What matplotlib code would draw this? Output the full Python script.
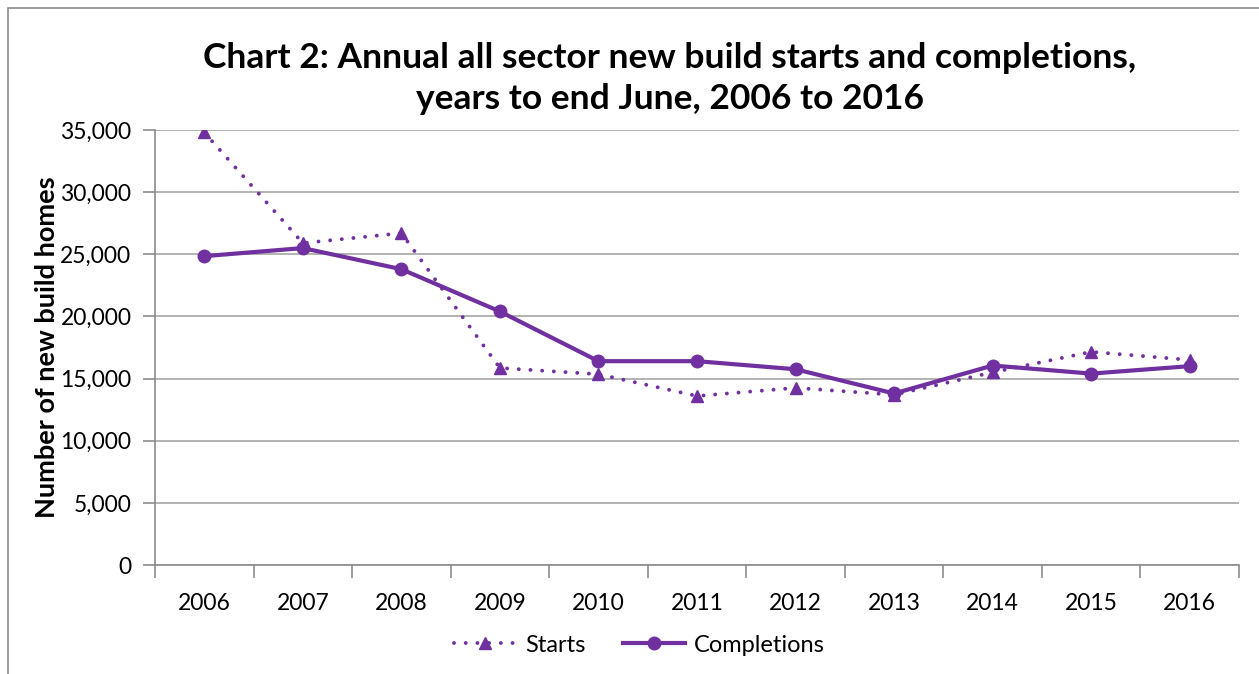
import matplotlib.pyplot as plt
from matplotlib.patches import Rectangle
from matplotlib.ticker import FuncFormatter, FixedLocator

# Data (years to end June)
years = ["2006", "2007", "2008", "2009", "2010", "2011",
         "2012", "2013", "2014", "2015", "2016"]
starts = [34800, 25900, 26700, 15850, 15350, 13600,
          14250, 13700, 15500, 17150, 16500]
completions = [24850, 25500, 23800, 20400, 16400, 16400,
               15750, 13800, 16050, 15400, 16000]

purple = "#7030A0"
plt.rcParams["font.family"] = ["Lato", "DejaVu Sans"]

fig = plt.figure(figsize=(12.59, 6.74), dpi=100)
ax = fig.add_axes([155 / 1259, 1 - 565 / 674, (1239 - 155) / 1259, (565 - 130) / 674])

# outer chart border
fig.patches.append(Rectangle((8 / 1259, -0.01), 1.2, 1 - 8 / 674 + 0.01,
                             transform=fig.transFigure, fill=False,
                             edgecolor="#8c8c8c", linewidth=1.2))

x = list(range(len(years)))
ax.plot(x, starts, linestyle=(0, (0.01, 3.0)), linewidth=2.8, color=purple,
        marker="^", markersize=9, label="Starts", dash_capstyle="round")
ax.plot(x, completions, linestyle="-", linewidth=3, color=purple,
        marker="o", markersize=9, label="Completions")

ax.set_xlim(-0.5, len(years) - 0.5)
ax.set_ylim(0, 35000)
ax.set_yticks(range(0, 35001, 5000))
ax.yaxis.set_major_formatter(FuncFormatter(lambda v, p: f"{int(v):,}"))
ax.grid(axis="y", color="#a6a6a6", linewidth=1.2)
ax.set_axisbelow(True)

ax.set_xticks(x)
ax.set_xticklabels(years)
ax.xaxis.set_minor_locator(FixedLocator([i - 0.5 for i in range(len(years) + 1)]))
ax.tick_params(axis="x", which="major", length=0, pad=20, labelsize=16.5)
ax.tick_params(axis="x", which="minor", length=9, color="#8c8c8c", width=1.2)
ax.tick_params(axis="y", length=9, color="#8c8c8c", width=1.2, labelsize=16.5, pad=8)

for s in ["top", "right"]:
    ax.spines[s].set_visible(False)
for s in ["left", "bottom"]:
    ax.spines[s].set_color("#8c8c8c")
    ax.spines[s].set_linewidth(1.2)

ax.set_ylabel("Number of new build homes", fontsize=19.5, fontweight="bold", labelpad=1)
fig.text(0.532, 0.883, "Chart 2: Annual all sector new build starts and completions,\nyears to end June, 2006 to 2016",
         ha="center", va="center", fontsize=25.5, fontweight="bold", linespacing=1.35)

fig.legend(loc="center", bbox_to_anchor=(0.508, 1 - 645 / 674), ncol=2, frameon=False,
           fontsize=17, handlelength=2.6, columnspacing=1.6, handletextpad=0.4)

fig.savefig("out.png", dpi=100)
